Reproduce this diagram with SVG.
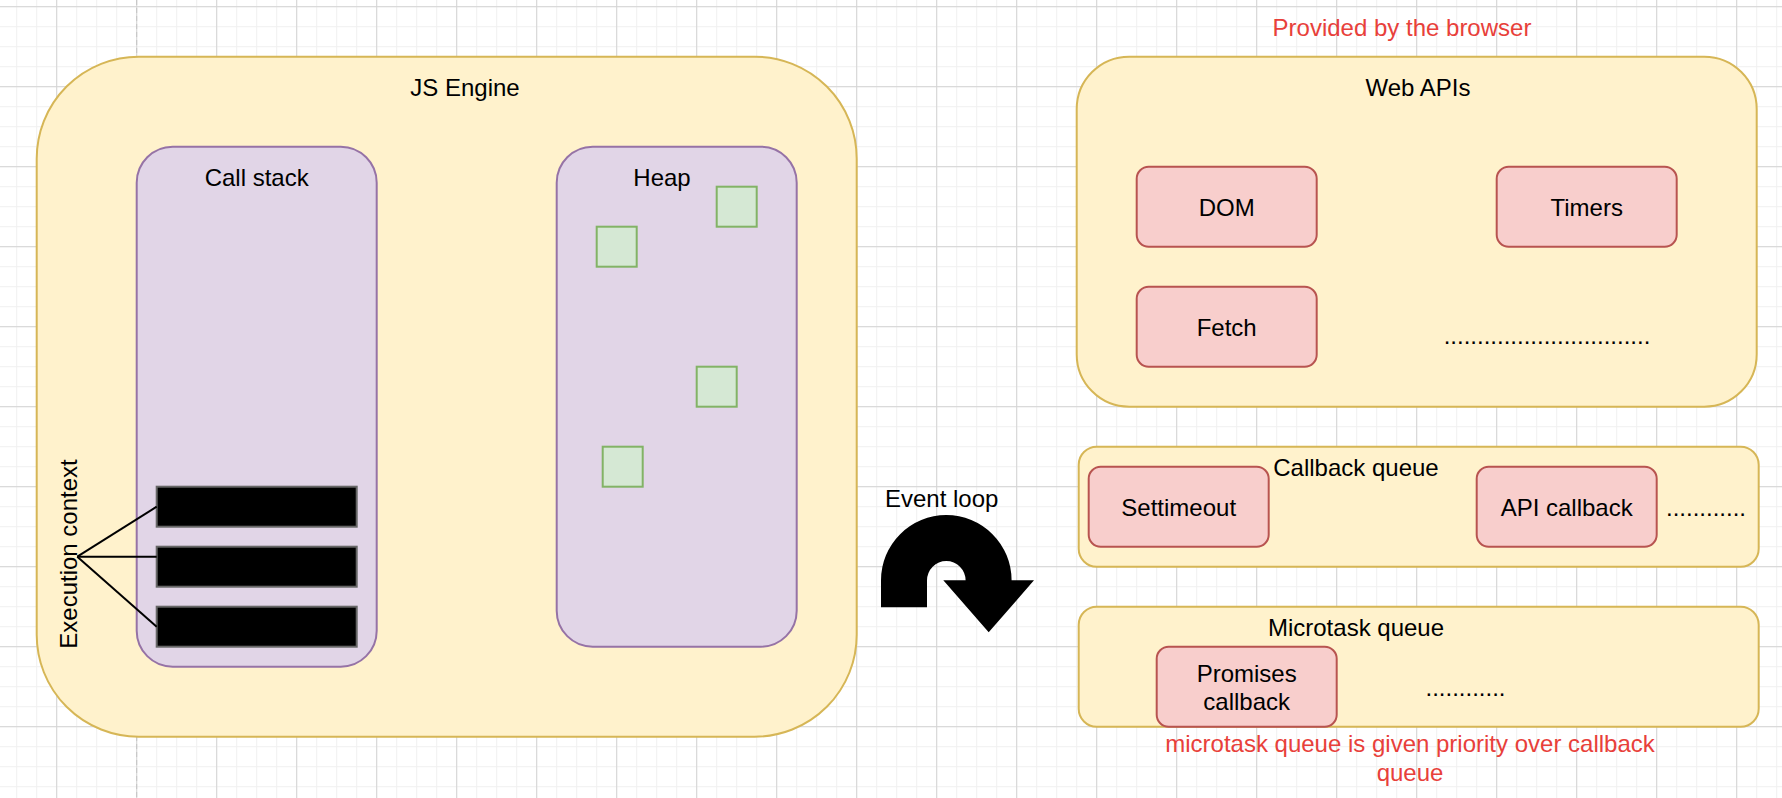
<svg xmlns="http://www.w3.org/2000/svg" width="1782" height="798" viewBox="0 0 1782 798">
<defs>
<pattern id="gridMinor" width="20" height="20" patternUnits="userSpaceOnUse" x="16.2" y="6.2">
<rect width="20" height="20" fill="#ffffff"/>
<path d="M0 0.5 H20 M0.5 0 V20" stroke="#f0f0f0" stroke-width="1" fill="none"/>
</pattern>
<pattern id="gridMajor" width="80" height="80" patternUnits="userSpaceOnUse" x="56.2" y="6.2">
<path d="M0 0.5 H80 M0.5 0 V80" stroke="#d4d4d4" stroke-width="1" fill="none"/>
</pattern>
</defs>
<style>
text{font-family:"Liberation Sans",Arial,Helvetica,sans-serif;font-size:24px;fill:#000;text-anchor:middle}
.red{fill:#e8403a}
.yellow{fill:#fff2cc;stroke:#d6b656;stroke-width:2}
.purple{fill:#e1d5e7;stroke:#9673a6;stroke-width:2}
.green{fill:#d5e8d4;stroke:#82b366;stroke-width:2}
.pink{fill:#f8cecc;stroke:#b85450;stroke-width:2}
.ctx{fill:#000;stroke:#666666;stroke-width:2}
.conn{stroke:#000;stroke-width:2;fill:none}
</style>
<rect width="1782" height="798" fill="url(#gridMinor)"/>
<rect width="1782" height="798" fill="url(#gridMajor)"/>
<line x1="136.7" y1="0" x2="136.7" y2="798" stroke="#c4c4c4" stroke-width="1" stroke-dasharray="5 3"/>

<text id="provided-label" class="red" x="1402" y="36">Provided by the browser</text>

<g id="js-engine">
<rect class="yellow" x="36.7" y="56.7" width="820" height="680" rx="102" ry="102"/>
<text x="465" y="96">JS Engine</text>
</g>

<g id="call-stack">
<rect class="purple" x="136.7" y="146.7" width="240" height="520" rx="36" ry="36"/>
<text x="256.7" y="186">Call stack</text>
</g>

<g id="heap">
<rect class="purple" x="556.7" y="146.7" width="240" height="500" rx="36" ry="36"/>
<text x="662" y="186">Heap</text>
</g>

<g id="heap-obj-1"><rect class="green" x="716.7" y="186.7" width="40" height="40"/></g>
<g id="heap-obj-2"><rect class="green" x="596.7" y="226.7" width="40" height="40"/></g>
<g id="heap-obj-3"><rect class="green" x="696.7" y="366.7" width="40" height="40"/></g>
<g id="heap-obj-4"><rect class="green" x="602.7" y="446.7" width="40" height="40"/></g>

<g id="context-1"><rect class="ctx" x="156.7" y="486.7" width="200" height="40"/></g>
<g id="context-2"><rect class="ctx" x="156.7" y="546.7" width="200" height="40"/></g>
<g id="context-3"><rect class="ctx" x="156.7" y="606.7" width="200" height="40"/></g>

<g id="execution-context-label">
<text transform="translate(77.3 554) rotate(-90)" x="0" y="0">Execution context</text>
</g>

<g id="connectors">
<line class="conn" x1="77.3" y1="556.7" x2="156.7" y2="506.7"/>
<line class="conn" x1="77.3" y1="556.7" x2="156.7" y2="556.7"/>
<line class="conn" x1="77.3" y1="556.7" x2="156.7" y2="626.7"/>
</g>

<g id="event-loop">
<text x="941.7" y="506.5">Event loop</text>
<path d="M881 607.3 L881 580.3 A65.3 65.3 0 0 1 1011.6 580.3 L1034 580.3 L988.7 632.3 L943.3 580.3 L965.6 580.3 A19.3 19.3 0 0 0 927 580.3 L927 607.3 Z" fill="#000"/>
</g>

<g id="web-apis">
<rect class="yellow" x="1076.7" y="56.7" width="680" height="350" rx="52.5" ry="52.5"/>
<text x="1418" y="96">Web APIs</text>
<text x="1547" y="344">...............................</text>
</g>

<g id="dom">
<rect class="pink" x="1136.7" y="166.7" width="180" height="80" rx="12" ry="12"/>
<text x="1226.7" y="216">DOM</text>
</g>
<g id="timers">
<rect class="pink" x="1496.7" y="166.7" width="180" height="80" rx="12" ry="12"/>
<text x="1586.7" y="216">Timers</text>
</g>
<g id="fetch">
<rect class="pink" x="1136.7" y="286.7" width="180" height="80" rx="12" ry="12"/>
<text x="1226.7" y="336">Fetch</text>
</g>

<g id="callback-queue">
<rect class="yellow" x="1078.7" y="446.7" width="680" height="120" rx="18" ry="18"/>
<text x="1356" y="476">Callback queue</text>
<text x="1706" y="516">............</text>
</g>
<g id="settimeout">
<rect class="pink" x="1088.7" y="466.7" width="180" height="80" rx="12" ry="12"/>
<text x="1178.7" y="515.5">Settimeout</text>
</g>
<g id="api-callback">
<rect class="pink" x="1476.7" y="466.7" width="180" height="80" rx="12" ry="12"/>
<text x="1566.7" y="515.5">API callback</text>
</g>

<g id="microtask-queue">
<rect class="yellow" x="1078.7" y="606.7" width="680" height="120" rx="18" ry="18"/>
<text x="1356" y="636">Microtask queue</text>
<text x="1465.5" y="696">............</text>
</g>
<g id="promises-callback">
<rect class="pink" x="1156.7" y="646.7" width="180" height="80" rx="12" ry="12"/>
<text x="1246.7" y="682">Promises</text>
<text x="1246.7" y="710">callback</text>
</g>

<g id="priority-note">
<text class="red" x="1410" y="752">microtask queue is given priority over callback</text>
<text class="red" x="1410" y="781">queue</text>
</g>
</svg>
